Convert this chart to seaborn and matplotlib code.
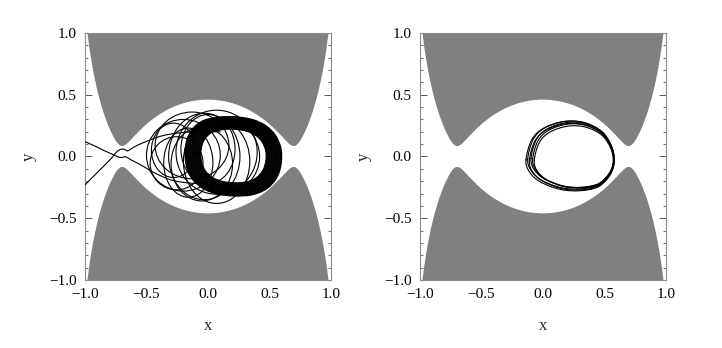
import numpy as np
import matplotlib
matplotlib.use("Agg")
import matplotlib.pyplot as plt
from matplotlib.path import Path
from matplotlib.patches import PathPatch, Ellipse
import seaborn as sns

# ---------------- values ----------------
# zero-velocity (Hill) curve fitted to the grey boundary: forbidden where f(x, y) > energy
coef_x2, coef_y2, coef_x4, coef_x2y2 = 1.0, 1.18, 1.02, 0.99
energy = 0.25

# right panel: outline of the outermost loop (x, y), and the six traced loops
loop_x = [-0.138, -0.092, 0.003, 0.165, 0.328, 0.477, 0.558, 0.580, 0.545, 0.450, 0.300, 0.138, -0.024, -0.111]
loop_y = [-0.028, 0.134, 0.228, 0.282, 0.274, 0.200, 0.079, -0.042, -0.150, -0.245, -0.277, -0.266, -0.204, -0.123]
loop_anchor = (0.50, 0.0)
loop_scale = [1.0, 0.978, 0.957, 0.936, 0.915, 0.895]
loop_shift_y = [0.0, 0.008, -0.005, 0.010, 0.003, -0.007]

# left panel: outer edge of the dense band of the trapped orbit and its nested loops
band_x = [-0.187, -0.170, -0.120, -0.040, 0.080, 0.220, 0.360, 0.470, 0.550, 0.595,
          0.595, 0.560, 0.480, 0.360, 0.220, 0.080, -0.040, -0.130, -0.175]
band_y = [0.030, 0.140, 0.230, 0.290, 0.318, 0.322, 0.300, 0.250, 0.170, 0.060,
          -0.060, -0.170, -0.260, -0.310, -0.320, -0.305, -0.260, -0.180, -0.080]
band_anchor = (0.21, 0.01)
band_scale = [1.0, 0.988, 0.975, 0.962, 0.95, 0.938, 0.925, 0.912, 0.90, 0.888, 0.875,
              0.862, 0.85, 0.838, 0.825, 0.812, 0.80, 0.788, 0.775, 0.762, 0.75, 0.738,
              0.725, 0.712, 0.70, 0.688, 0.675]

# left panel: sparse wide loops (centre x, centre y, half-width, half-height)
sparse_cx = [-0.20, -0.13, -0.03, -0.16, 0.07, 0.07, -0.255, -0.05, 0.00, -0.28, 0.12]
sparse_cy = [0.01, 0.09, 0.00, -0.05, 0.035, -0.04, -0.055, -0.06, 0.06, 0.05, 0.0]
sparse_rx = [0.30, 0.30, 0.29, 0.20, 0.33, 0.27, 0.215, 0.25, 0.22, 0.18, 0.30]
sparse_ry = [0.29, 0.27, 0.35, 0.28, 0.34, 0.34, 0.215, 0.30, 0.28, 0.22, 0.30]

# left panel: the two branches that leave through the left neck
esc_a_x = [-1.00, -0.92, -0.84, -0.79, -0.76, -0.73, -0.70, -0.67, -0.63, -0.57, -0.50, -0.42, -0.30, -0.18, -0.05, 0.10]
esc_a_y = [0.120, 0.085, 0.046, 0.024, 0.010, -0.004, -0.008, -0.002, -0.025, -0.055, -0.095, -0.140, -0.190, -0.212, -0.220, -0.215]
esc_b_x = [-1.00, -0.93, -0.86, -0.80, -0.77, -0.74, -0.71, -0.68, -0.655, -0.62, -0.57, -0.48, -0.40, -0.30, -0.18, -0.05, 0.10]
esc_b_y = [-0.230, -0.160, -0.090, -0.030, 0.005, 0.040, 0.058, 0.058, 0.045, 0.065, 0.093, 0.130, 0.160, 0.182, 0.196, 0.200, 0.200]

ticks_major = [-1.0, -0.5, 0.0, 0.5, 1.0]
tick_labels = ["\u22121.0", "\u22120.5", "0.0", "0.5", "1.0"]
minor_step = 0.1
lims = [-1.0, 1.0]
grey = "#808080"
line_w = 0.8


def hill(x, y):
    return coef_x2*x**2 + coef_y2*y**2 - coef_x4*x**4 - coef_x2y2*x**2*y**2


def smooth_path(xs, ys, closed):
    p = np.column_stack([xs, ys]).astype(float)
    n = len(p)
    verts = [p[0]]
    codes = [Path.MOVETO]
    nseg = n if closed else n - 1
    for i in range(nseg):
        if closed:
            p0, p1, p2, p3 = p[(i-1) % n], p[i], p[(i+1) % n], p[(i+2) % n]
        else:
            p0 = p[max(i-1, 0)]; p1 = p[i]; p2 = p[i+1]; p3 = p[min(i+2, n-1)]
        verts += [p1 + (p2 - p0)/6, p2 - (p3 - p1)/6, p2]
        codes += [Path.CURVE4]*3
    return Path(np.array(verts), codes)


def draw_curve(ax, xs, ys, closed):
    ax.add_patch(PathPatch(smooth_path(xs, ys, closed), fill=False, ec="black",
                           lw=line_w, zorder=3, capstyle="round", joinstyle="round"))


sns.set_theme(style="ticks")
plt.rcParams["font.family"] = ["Liberation Serif", "DejaVu Serif"]

fig = plt.figure(figsize=(7.22, 3.48), dpi=100)
ax_l = fig.add_axes([0.1177, 0.1954, 0.3407, 0.7098])
ax_r = fig.add_axes([0.5817, 0.1954, 0.3407, 0.7098])

gx, gy = np.meshgrid(np.linspace(-1, 1, 800), np.linspace(-1, 1, 800))
forbid = (hill(gx, gy) > energy).astype(float)
for ax in (ax_l, ax_r):
    ax.contourf(gx, gy, forbid, levels=[0.5, 1.5], colors=[grey], antialiased=True)

# ---- left panel: escaping orbit ----
bx0, by0 = band_anchor
for sc in band_scale:
    draw_curve(ax_l, [bx0 + sc*(x - bx0) for x in band_x],
               [by0 + sc*(y - by0) for y in band_y], True)
for cx, cy, rx, ry in zip(sparse_cx, sparse_cy, sparse_rx, sparse_ry):
    ax_l.add_patch(Ellipse((cx, cy), 2*rx, 2*ry, fill=False, ec="black", lw=line_w, zorder=3))
draw_curve(ax_l, esc_a_x, esc_a_y, False)
draw_curve(ax_l, esc_b_x, esc_b_y, False)

# ---- right panel: bounded orbit ----
ax0, ay0 = loop_anchor
for sc, dy in zip(loop_scale, loop_shift_y):
    draw_curve(ax_r, [ax0 + sc*(x - ax0) for x in loop_x],
               [ay0 + sc*(y - ay0) + dy for y in loop_y], True)

for ax in (ax_l, ax_r):
    ax.set_xlim(lims); ax.set_ylim(lims)
    ax.set_xticks(ticks_major); ax.set_xticklabels(tick_labels)
    ax.set_yticks(ticks_major); ax.set_yticklabels(tick_labels)
    minors = np.arange(lims[0], lims[1] + 1e-9, minor_step)
    ax.set_xticks(minors, minor=True); ax.set_yticks(minors, minor=True)
    ax.tick_params(which="both", direction="in", top=True, right=True,
                   color="0.35", labelsize=11, labelcolor="black")
    ax.tick_params(which="major", length=5, width=0.7, pad=6)
    ax.tick_params(which="minor", length=2.5, width=0.6)
    for sp in ax.spines.values():
        sp.set_color("0.55"); sp.set_linewidth(0.8)
    ax.set_xlabel("x", fontsize=12, labelpad=12)
    ax.set_ylabel("y", fontsize=12, labelpad=9)

fig.savefig("out.png", dpi=100)
